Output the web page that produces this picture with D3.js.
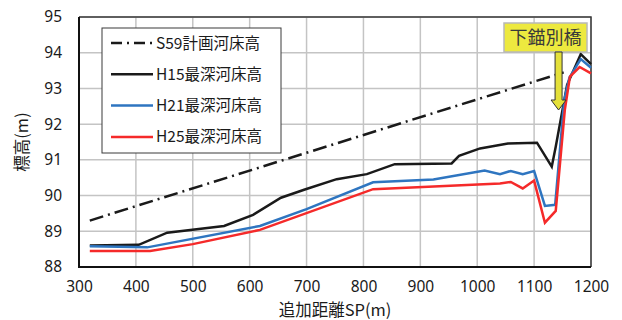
<!DOCTYPE html>
<html>
<head>
<meta charset="utf-8">
<script src="https://cdn.jsdelivr.net/npm/d3@7/dist/d3.min.js"></script>
<style>
  html, body { margin: 0; padding: 0; background: #fff; }
  svg { display: block; }
  text { font-family: "Noto Sans CJK JP", "Noto Sans", sans-serif; }
</style>
</head>
<body>
<svg id="chart" width="622" height="320"></svg>
<script>
// Longitudinal riverbed profile: distance SP (m) vs elevation (m)
const xTicks = [300, 400, 500, 600, 700, 800, 900, 1000, 1100, 1200];
const yTicks = [88, 89, 90, 91, 92, 93, 94, 95];

const seriesNames = ["S59計画河床高", "H15最深河床高", "H21最深河床高", "H25最深河床高"];
const seriesColors = ["#1a1a1a", "#1a1a1a", "#2e75c0", "#f52a2a"];

// S59 planned bed (straight grade)
const s59SP = [319, 1152];
const s59EL = [89.30, 93.45];

// H15 deepest bed
const h15SP = [319, 405, 455, 555, 606, 655, 697, 753, 806, 855, 955, 968, 1005, 1054, 1105, 1131, 1138, 1158, 1182, 1200];
const h15EL = [88.60, 88.62, 88.96, 89.15, 89.46, 89.94, 90.17, 90.46, 90.60, 90.88, 90.90, 91.11, 91.32, 91.46, 91.48, 90.81, 91.37, 93.10, 93.96, 93.68];

// H21 deepest bed
const h21SP = [319, 420, 618, 700, 817, 923, 1013, 1040, 1059, 1080, 1100, 1119, 1137, 1153, 1162, 1182, 1200];
const h21EL = [88.58, 88.55, 89.15, 89.62, 90.37, 90.45, 90.70, 90.60, 90.69, 90.60, 90.69, 89.71, 89.74, 92.68, 93.30, 93.82, 93.58];

// H25 deepest bed
const h25SP = [319, 425, 500, 618, 817, 1040, 1059, 1080, 1100, 1119, 1138, 1154, 1163, 1180, 1200];
const h25EL = [88.45, 88.45, 88.64, 89.04, 90.18, 90.34, 90.38, 90.20, 90.42, 89.24, 89.57, 92.40, 93.33, 93.60, 93.42];

const bridgeLabel = "下錨別橋";
const bridgeSP = 1143;
const xTitle = "追加距離SP(m)";
const yTitle = "標高(m)";

const svg = d3.select("#chart");
const mLeft = 79, mRight = 591, mTop = 17, mBottom = 267;

const x = d3.scaleLinear().domain([300, 1200]).range([mLeft, mRight]);
const y = d3.scaleLinear().domain([88, 95]).range([mBottom, mTop]);

// grid
const grid = svg.append("g");
grid.selectAll("line.v").data(xTicks).join("line")
  .attr("x1", d => x(d)).attr("x2", d => x(d))
  .attr("y1", mTop).attr("y2", mBottom)
  .attr("stroke", "#c4c4c4").attr("stroke-width", 1.5);
grid.selectAll("line.h").data(yTicks).join("line")
  .attr("x1", mLeft).attr("x2", mRight)
  .attr("y1", d => y(d)).attr("y2", d => y(d))
  .attr("stroke", "#c4c4c4").attr("stroke-width", 1.5);

// axes
const fmt = d3.format("d");
const xAxis = d3.axisBottom(x).tickValues(xTicks).tickFormat(fmt).tickSize(0).tickPadding(14);
const gx = svg.append("g").attr("transform", `translate(0,${mBottom})`).call(xAxis);
gx.select(".domain").remove();
gx.selectAll("text").attr("font-size", 15.5).attr("fill", "#1a1a1a")
  .style("font-family", "'Noto Sans', sans-serif");

const yAxis = d3.axisLeft(y).tickValues(yTicks).tickFormat(fmt).tickSize(0).tickPadding(17);
const gy = svg.append("g").attr("transform", `translate(${mLeft},0)`).call(yAxis);
gy.select(".domain").remove();
gy.selectAll("text").attr("font-size", 15.5).attr("fill", "#1a1a1a")
  .style("font-family", "'Noto Sans', sans-serif");

// frame
svg.append("path")
  .attr("d", `M${mLeft},${mTop}H${mRight}V${mBottom}`)
  .attr("fill", "none").attr("stroke", "#3a3a3a").attr("stroke-width", 1.5);
svg.append("path")
  .attr("d", `M${mLeft},${mTop}V${mBottom}H${mRight}`)
  .attr("fill", "none").attr("stroke", "#111").attr("stroke-width", 2);

// series
const line = d3.line().x(d => x(d[0])).y(d => y(d[1]));
const zip = (a, b) => a.map((v, i) => [v, b[i]]);
const series = [
  { pts: zip(s59SP, s59EL), dash: "14,5,2,5" },
  { pts: zip(h15SP, h15EL), dash: null },
  { pts: zip(h21SP, h21EL), dash: null },
  { pts: zip(h25SP, h25EL), dash: null }
];
const plot = svg.append("g");
[1, 2, 3, 0].forEach(i => {
  plot.append("path")
    .attr("d", line(series[i].pts))
    .attr("fill", "none")
    .attr("stroke", seriesColors[i])
    .attr("stroke-width", 2.5)
    .attr("stroke-linejoin", "miter")
    .attr("stroke-dasharray", series[i].dash);
});

// legend
const lg = svg.append("g");
lg.append("rect").attr("x", 102).attr("y", 28).attr("width", 179).attr("height", 125)
  .attr("fill", "#fff").attr("stroke", "#3a3a3a").attr("stroke-width", 1);
seriesNames.forEach((name, i) => {
  const yy = 43 + i * 31.3;
  lg.append("line").attr("x1", 111).attr("x2", 153).attr("y1", yy).attr("y2", yy)
    .attr("stroke", seriesColors[i]).attr("stroke-width", 2.5)
    .attr("stroke-dasharray", series[i].dash ? "11,5,2,5" : null);
  lg.append("text").attr("x", 156).attr("y", yy).attr("dy", "0.36em")
    .attr("font-size", 15.5).attr("fill", "#1a1a1a").text(name);
});

// bridge annotation
const bx = x(bridgeSP);
const ann = svg.append("g");
ann.append("rect").attr("x", 504).attr("y", 23).attr("width", 83).attr("height", 29)
  .attr("fill", "#ede93f").attr("stroke", "#b8b8b8").attr("stroke-width", 1.5);
ann.append("text").attr("x", 545.5).attr("y", 38).attr("dy", "0.36em")
  .attr("text-anchor", "middle").attr("font-size", 18).attr("fill", "#3a3a3a")
  .text(bridgeLabel);
ann.append("path")
  .attr("d", `M${bx - 3.5},52V100H${bx - 7.5}L${bx},110L${bx + 7.5},100H${bx + 3.5}V52Z`)
  .attr("fill", "#e4e03a").attr("stroke", "#333").attr("stroke-width", 1);

// axis titles
svg.append("text").attr("x", 335).attr("y", 310).attr("dy", "0.36em")
  .attr("text-anchor", "middle").attr("font-size", 16.5).attr("fill", "#1a1a1a").text(xTitle);
svg.append("text")
  .attr("transform", `translate(22,${(mTop + mBottom) / 2}) rotate(-90)`)
  .attr("dy", "0.36em").attr("text-anchor", "middle")
  .attr("font-size", 16.5).attr("fill", "#1a1a1a").text(yTitle);
</script>
</body>
</html>
